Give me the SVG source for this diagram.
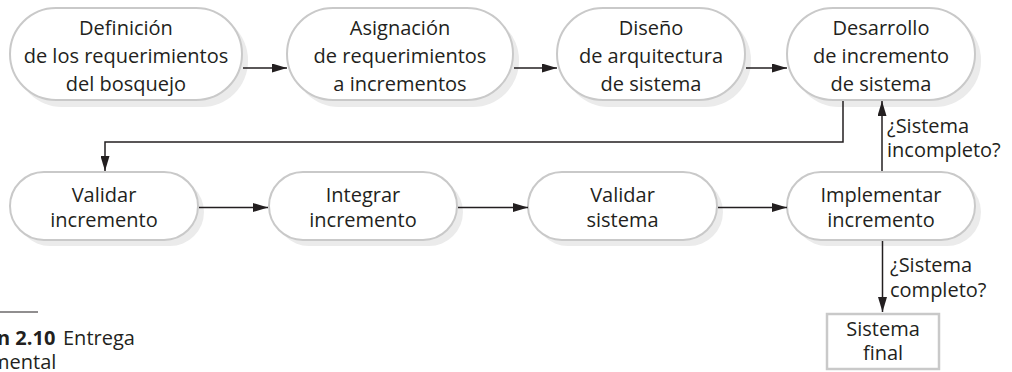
<svg xmlns="http://www.w3.org/2000/svg" width="1012" height="372" viewBox="0 0 1012 372">
<defs>
<style>
.shadow{fill:#ebebeb;stroke:none}
.box{fill:#ffffff;stroke:#c9c9c9;stroke-width:2}
.t{font-family:"Open Sans","Noto Sans","DejaVu Sans",sans-serif;font-size:20px;fill:#231f20;text-anchor:middle}
.lbl{font-family:"Open Sans","Noto Sans","DejaVu Sans",sans-serif;font-size:20px;fill:#231f20}
.cap{font-family:"Open Sans","Noto Sans","DejaVu Sans",sans-serif;font-size:20px;fill:#231f20}
.ln{fill:none;stroke:#231f20;stroke-width:1.5}
</style>
<marker id="ah" markerUnits="userSpaceOnUse" markerWidth="15" markerHeight="9" refX="15" refY="4.5" orient="auto">
<path d="M0,0 L15,4.5 L0,9 z" fill="#231f20"/>
</marker>
</defs>
<rect width="1012" height="372" fill="#ffffff"/>

<g id="n1">
<rect class="shadow" x="16" y="14" width="232" height="93" rx="46"/>
<rect class="box" x="10" y="8" width="232" height="92" rx="46"/>
<text class="t" x="126" y="34.5">Definición</text>
<text class="t" x="126" y="62.5">de los requerimientos</text>
<text class="t" x="126" y="90.5">del bosquejo</text>
</g>
<g id="n2">
<rect class="shadow" x="293" y="14" width="226" height="93" rx="46"/>
<rect class="box" x="287" y="8" width="226" height="92" rx="46"/>
<text class="t" x="400" y="34.5">Asignación</text>
<text class="t" x="400" y="62.5">de requerimientos</text>
<text class="t" x="400" y="90.5">a incrementos</text>
</g>
<g id="n3">
<rect class="shadow" x="563" y="14" width="188" height="93" rx="46"/>
<rect class="box" x="557" y="8" width="188" height="92" rx="46"/>
<text class="t" x="651" y="34.5">Diseño</text>
<text class="t" x="651" y="62.5">de arquitectura</text>
<text class="t" x="651" y="90.5">de sistema</text>
</g>
<g id="n4">
<rect class="shadow" x="793" y="14" width="188" height="93" rx="46"/>
<rect class="box" x="787" y="8" width="188" height="92" rx="46"/>
<text class="t" x="881" y="34.5">Desarrollo</text>
<text class="t" x="881" y="62.5">de incremento</text>
<text class="t" x="881" y="90.5">de sistema</text>
</g>

<g id="n5">
<rect class="shadow" x="16" y="178" width="188" height="68" rx="34"/>
<rect class="box" x="10" y="172" width="188" height="68" rx="34"/>
<text class="t" x="104" y="202">Validar</text>
<text class="t" x="104" y="227">incremento</text>
</g>
<g id="n6">
<rect class="shadow" x="275" y="178" width="188" height="68" rx="34"/>
<rect class="box" x="269" y="172" width="188" height="68" rx="34"/>
<text class="t" x="363" y="202">Integrar</text>
<text class="t" x="363" y="227">incremento</text>
</g>
<g id="n7">
<rect class="shadow" x="534" y="178" width="189" height="68" rx="34"/>
<rect class="box" x="528" y="172" width="189" height="68" rx="34"/>
<text class="t" x="622.5" y="202">Validar</text>
<text class="t" x="622.5" y="227">sistema</text>
</g>
<g id="n8">
<rect class="shadow" x="793" y="178" width="188" height="68" rx="34"/>
<rect class="box" x="787" y="172" width="188" height="68" rx="34"/>
<text class="t" x="881" y="202">Implementar</text>
<text class="t" x="881" y="227">incremento</text>
</g>

<g id="n9">
<rect x="827" y="314" width="112" height="55" fill="#ffffff" stroke="#c9c9c9" stroke-width="2.5"/>
<text class="t" x="883" y="336">Sistema</text>
<text class="t" x="883" y="360">final</text>
</g>

<g id="connectors">
<line class="ln" x1="243" y1="68" x2="287" y2="68" marker-end="url(#ah)"/>
<line class="ln" x1="514" y1="68" x2="557" y2="68" marker-end="url(#ah)"/>
<line class="ln" x1="746" y1="68" x2="787" y2="68" marker-end="url(#ah)"/>
<polyline class="ln" points="843,101 843,142 105,142 105,171" marker-end="url(#ah)"/>
<line class="ln" x1="882" y1="171" x2="882" y2="101" marker-end="url(#ah)"/>
<line class="ln" x1="199" y1="207.5" x2="268" y2="207.5" marker-end="url(#ah)"/>
<line class="ln" x1="458" y1="207.5" x2="528" y2="207.5" marker-end="url(#ah)"/>
<line class="ln" x1="718" y1="207.5" x2="787" y2="207.5" marker-end="url(#ah)"/>
<line class="ln" x1="882.5" y1="241" x2="882.5" y2="312" marker-end="url(#ah)"/>
<text class="lbl" x="887" y="133">¿Sistema</text>
<text class="lbl" x="887" y="157">incompleto?</text>
<text class="lbl" x="890" y="272">¿Sistema</text>
<text class="lbl" x="890" y="297">completo?</text>
</g>

<g id="caption">
<line x1="0" y1="312" x2="38" y2="312" stroke="#231f20" stroke-width="1.2"/>
<text class="cap" x="-3" y="345" font-weight="bold">n 2.10</text>
<text class="cap" x="63" y="345">Entrega</text>
<text class="cap" x="-9" y="369">mental</text>
</g>
</svg>
